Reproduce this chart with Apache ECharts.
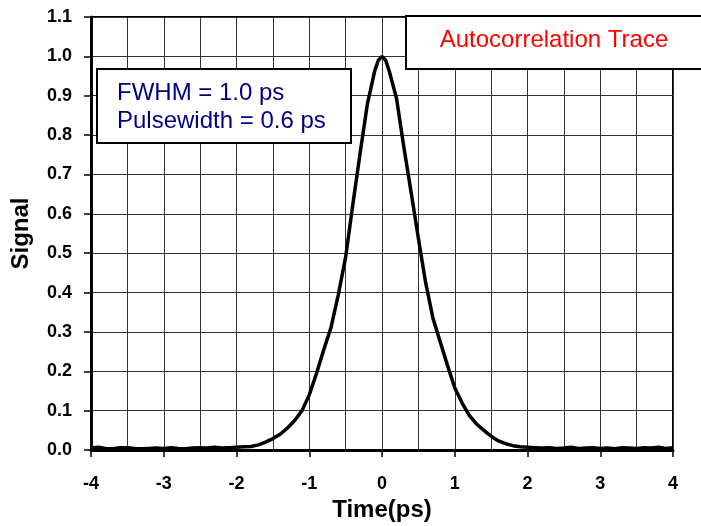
<!DOCTYPE html>
<html>
<head>
<meta charset="utf-8">
<script src="https://cdn.jsdelivr.net/npm/echarts@6/dist/echarts.min.js"></script>
<style>
html,body{margin:0;padding:0;background:#fff;}
#chart{width:701px;height:526px;}
</style>
</head>
<body>
<div id="chart"></div>
<script>
const timePs = [-4.0,-3.9,-3.8,-3.7,-3.6,-3.5,-3.4,-3.3,-3.2,-3.1,-3.0,-2.9,-2.8,-2.7,-2.6,-2.5,-2.4,-2.3,-2.2,-2.1,
  -2.0,-1.9,-1.8,-1.7,-1.6,-1.5,-1.4,-1.3,-1.2,-1.1,-1.0,-0.9,-0.8,-0.7,-0.6,-0.5,-0.4,-0.3,-0.2,-0.1,-0.05,
  0.0,0.05,0.1,0.2,0.3,0.4,0.5,0.6,0.7,0.8,0.9,1.0,1.1,1.2,1.3,1.4,1.5,1.6,1.7,1.8,1.9,
  2.0,2.1,2.2,2.3,2.4,2.5,2.6,2.7,2.8,2.9,3.0,3.1,3.2,3.3,3.4,3.5,3.6,3.7,3.8,3.9,4.0];
const signal = [0.005,0.007,0.004,0.003,0.006,0.006,0.004,0.003,0.004,0.005,0.004,0.006,0.004,0.003,0.005,0.006,0.005,0.007,0.005,0.006,
  0.007,0.008,0.009,0.013,0.020,0.029,0.040,0.056,0.075,0.100,0.140,0.195,0.255,0.312,0.395,0.490,0.625,0.755,0.880,0.963,0.990,
  1.000,0.990,0.962,0.893,0.770,0.655,0.538,0.425,0.335,0.275,0.215,0.158,0.120,0.088,0.066,0.050,0.035,0.023,0.016,0.011,0.008,
  0.007,0.006,0.005,0.006,0.004,0.005,0.007,0.004,0.005,0.006,0.004,0.005,0.003,0.006,0.005,0.004,0.006,0.005,0.007,0.004,0.006];
const xTicks = [-4,-3,-2,-1,0,1,2,3,4];
const yTicks = [0.0,0.1,0.2,0.3,0.4,0.5,0.6,0.7,0.8,0.9,1.0,1.1];
const infoLines = ['FWHM = 1.0 ps','Pulsewidth = 0.6 ps'];
const titleText = 'Autocorrelation Trace';

const chart = echarts.init(document.getElementById('chart'), null, {renderer:'canvas'});
const font = 'Arial, "Liberation Sans", sans-serif';
const data = timePs.map((t,i)=>[t, signal[i]]);

chart.setOption({
  animation:false,
  backgroundColor:'#fff',
  grid:{left:91,right:28,top:17,bottom:76,containLabel:false,outerBoundsMode:'none',
    show:true,borderColor:'#000',borderWidth:2,backgroundColor:'transparent'},
  xAxis:{
    type:'value',min:xTicks[0],max:xTicks[xTicks.length-1],interval:1,
    name:'Time(ps)',nameLocation:'middle',nameGap:48,nameMoveOverlap:false,
    nameTextStyle:{fontFamily:font,fontWeight:'bold',fontSize:24,color:'#000'},
    axisLine:{show:true,onZero:false,lineStyle:{color:'#000',width:3}},
    axisTick:{show:true,length:7,lineStyle:{color:'#000',width:1.5}},
    axisLabel:{margin:25,fontFamily:font,fontWeight:'bold',fontSize:18,color:'#000',
      formatter:v=>xTicks.includes(v)?String(v):''},
    splitLine:{show:true,lineStyle:{color:'#333',width:1}},
    minorTick:{show:false,splitNumber:2},
    minorSplitLine:{show:true,lineStyle:{color:'#333',width:1}}
  },
  yAxis:{
    type:'value',min:yTicks[0],max:yTicks[yTicks.length-1],interval:0.1,
    name:'Signal',nameLocation:'middle',nameGap:58,nameRotate:90,nameMoveOverlap:false,
    nameTextStyle:{fontFamily:font,fontWeight:'bold',fontSize:24,color:'#000'},
    axisLine:{show:true,onZero:false,lineStyle:{color:'#000',width:3}},
    axisTick:{show:true,length:7,lineStyle:{color:'#000',width:1.5}},
    axisLabel:{margin:19,fontFamily:font,fontWeight:'bold',fontSize:18,color:'#000',
      formatter:v=>v.toFixed(1)},
    splitLine:{show:true,lineStyle:{color:'#333',width:1}}
  },
  series:[{
    type:'line',data:data,showSymbol:false,symbol:'none',smooth:false,
    lineStyle:{color:'#000',width:3.5},z:5
  }],
  graphic:[
    {type:'rect',left:96,top:68,z:100,shape:{width:254,height:74},
      style:{fill:'#fff',stroke:'#000',lineWidth:2}},
    {type:'text',left:117,top:79,z:101,
      style:{text:infoLines.join('\n'),fill:'#000080',font:'24px Arial, "Liberation Sans", sans-serif',lineHeight:28}},
    {type:'rect',left:405,top:15,z:100,shape:{width:300,height:53},
      style:{fill:'#fff',stroke:'#000',lineWidth:2}},
    {type:'text',x:554,y:40,z:101,
      style:{text:titleText,fill:'#ff0000',font:'24px Arial, "Liberation Sans", sans-serif',align:'center',verticalAlign:'middle'}}
  ]
});
</script>
</body>
</html>
